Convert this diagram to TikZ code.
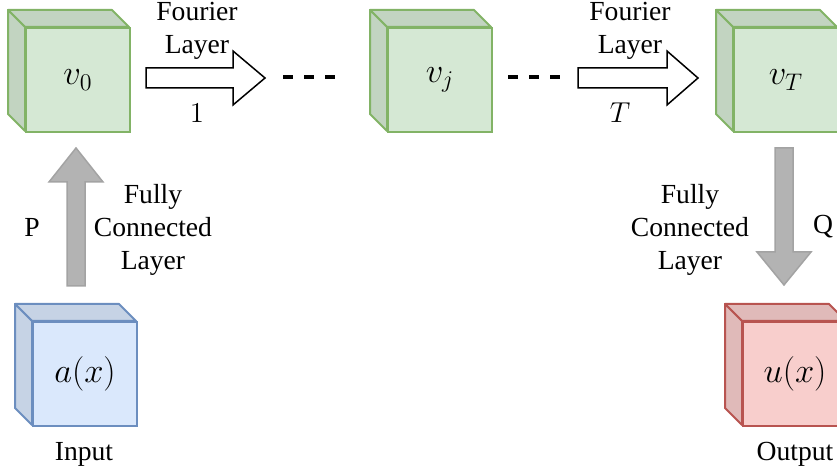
\documentclass[tikz,border=0pt]{standalone}
\usepackage{amsmath}
\usepackage{fontspec}
\setmainfont{Liberation Serif}
\usetikzlibrary{positioning,calc}
\definecolor{gface}{HTML}{D5E8D4}
\definecolor{gside}{HTML}{C2D4C1}
\definecolor{gline}{HTML}{82B366}
\definecolor{bface}{HTML}{DAE8FC}
\definecolor{bside}{HTML}{C6D3E5}
\definecolor{bline}{HTML}{6C8EBF}
\definecolor{rface}{HTML}{F8CECC}
\definecolor{rside}{HTML}{E0BAB9}
\definecolor{rline}{HTML}{B85450}
\definecolor{fcgray}{HTML}{B3B3B3}
\definecolor{fcline}{HTML}{A3A3A3}

\newcommand\txtfont{\fontsize{13.8}{16.3}\selectfont}
\newcommand\cubefont{\fontsize{17.5}{21}\selectfont}

% cube: name, x, y (front face, top left), face, side, line, label
\newcommand\featcube[7]{%
  \draw[#6,fill=#5,line width=1pt,line join=round] (#2,#3) -- ++(-17,-17) -- ++(104,0) -- ++(17,17) -- cycle;
  \draw[#6,fill=#5,line width=1pt,line join=round] (#2,#3) -- ++(-17,-17) -- ++(0,104) -- ++(17,17) -- cycle;
  \node[draw=#6,fill=#4,line width=1pt,minimum size=52pt,inner sep=0pt,anchor=north west,font=\cubefont] (#1) at (#2,#3) {#7};
}
% fat arrow: style, tail, tip, shaft half width, head half width, head length
\newcommand\fatarrow[6]{%
  \coordinate (hb) at ($(#3)!#6!(#2)$);
  \draw[#1] ($(#2)!#4!90:(#3)$) -- ($(hb)!#4!-90:(#2)$) -- ($(hb)!#5!-90:(#2)$) -- (#3)
    -- ($(hb)!#5!90:(#2)$) -- ($(hb)!#4!90:(#2)$) -- ($(#2)!#4!-90:(#3)$) -- cycle;
}

\begin{document}
\begin{tikzpicture}[x=0.5pt,y=-0.5pt,
  lbl/.style={font=\txtfont,align=center,inner sep=0pt},
  flayer/.style={draw=black,fill=white,line width=0.75pt,line join=miter},
  fclayer/.style={draw=fcline,fill=fcgray,line width=0.75pt},
  skipline/.style={line width=1.6pt,dash pattern=on 5pt off 5.5pt}]
  \useasboundingbox (0,0) rectangle (837,469);
  \clip (0,0) rectangle (837,469);

  % lifted states
  \featcube{v0}{25}{27}{gface}{gside}{gline}{$v_0$}
  \featcube{vj}{387}{27}{gface}{gside}{gline}{$v_j$}
  \featcube{vT}{733}{27}{gface}{gside}{gline}{$v_T$}
  % input / output
  \featcube{ax}{32}{321}{bface}{bside}{bline}{$a(x)$}
  \featcube{ux}{742}{321}{rface}{rside}{rline}{$u(x)$}

  % Fourier layers
  \coordinate (f1a) at (146,78); \coordinate (f1b) at (265,78);
  \coordinate (fTa) at (578,78); \coordinate (fTb) at (698,78);
  \fatarrow{flayer}{f1a}{f1b}{5pt}{13.5pt}{16pt}
  \fatarrow{flayer}{fTa}{fTb}{5pt}{13.5pt}{15.5pt}
  \node[lbl] (f1txt) at (197,31) {Fourier\\Layer};
  \node[lbl] (fTtxt) at (630,31) {Fourier\\Layer};
  \node[lbl] (f1n) at (197,113) {$1$};
  \node[lbl] (fTn) at (620,113) {$T$};

  % skipped layers
  \coordinate (s1a) at (283,77); \coordinate (s1b) at (335,77);
  \coordinate (s2a) at (508,77); \coordinate (s2b) at (563,77);
  \draw[skipline] (s1a) -- (s1b);
  \draw[skipline] (s2a) -- (s2b);

  % lifting P and projection Q
  \coordinate (pa) at (76,286); \coordinate (pb) at (76,148);
  \coordinate (qa) at (784,148); \coordinate (qb) at (784,285);
  \fatarrow{fclayer}{pa}{pb}{4.5pt}{13.5pt}{17pt}
  \fatarrow{fclayer}{qa}{qb}{4.5pt}{13.5pt}{16.5pt}
  \node[lbl] (ptxt) at (153,230) {Fully\\Connected\\Layer};
  \node[lbl] (qtxt) at (690,230) {Fully\\Connected\\Layer};
  \node[lbl] (p) at (32,227) {P};
  \node[lbl] (q) at (823,227) {Q};

  \node[lbl] (in) at (84,454) {Input};
  \node[lbl] (out) at (795,454) {Output};
\end{tikzpicture}
\end{document}
